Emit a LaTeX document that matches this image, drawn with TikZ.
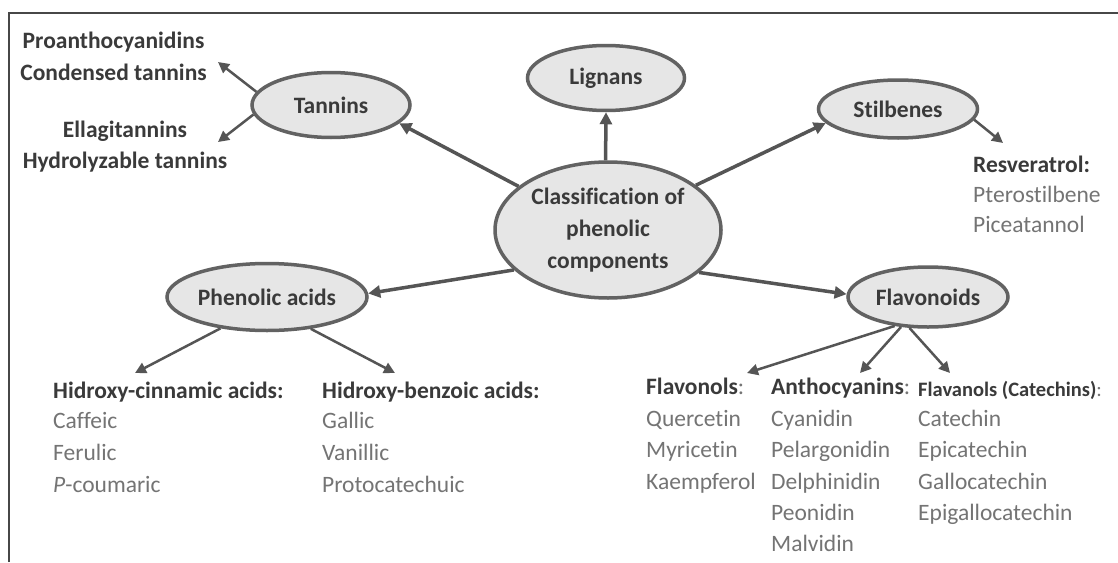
\documentclass[tikz,border=0pt]{standalone}
\usepackage{fontspec}
\setmainfont{Carlito}[Ligatures=CommonOff]
\usetikzlibrary{shapes.geometric,arrows.meta}
\definecolor{ink}{HTML}{3A3A3A}
\definecolor{soft}{HTML}{747474}
\definecolor{edgec}{HTML}{626262}
\definecolor{fillg}{HTML}{E6E6E6}
\definecolor{arrowc}{HTML}{555555}
\definecolor{framec}{HTML}{474747}
\begin{document}
\begin{tikzpicture}[x=1pt,y=-1pt,
  cls/.style={ellipse,draw=edgec,line width=3.5pt,fill=fillg,inner sep=0pt,
    font=\bfseries\fontsize{23.5}{32}\selectfont,text=ink,align=center},
  head/.style={anchor=west,inner sep=0pt,font=\bfseries\fontsize{23.5}{32}\selectfont,
    text=ink,text height=16pt,text depth=5pt},
  item/.style={anchor=west,inner sep=0pt,font=\fontsize{23.5}{32}\selectfont,
    text=soft,text height=16pt,text depth=5pt},
  mainarr/.style={draw=arrowc,line width=3.5pt,-{Triangle[length=12pt,width=12pt]}},
  subarr/.style={draw=arrowc,line width=2.5pt,-{Triangle[length=11pt,width=11pt]}}]

\useasboundingbox (0,0) rectangle (1118,562);
\fill[white] (0,0) rectangle (1118,562);
\draw[framec,line width=2.5pt] (9,562) -- (9,13) -- (1118,13);

% ellipses
\node[cls,minimum width=226pt,minimum height=136pt] (central) at (608,230)
  {Classification of\\phenolic\\components};
\node[cls,minimum width=158pt,minimum height=65pt] (tannins) at (331,105) {Tannins};
\node[cls,minimum width=157pt,minimum height=65pt] (lignans) at (606,78) {Lignans};
\node[cls,minimum width=159pt,minimum height=58pt] (stilbenes) at (898,109) {Stilbenes};
\node[cls,minimum width=200pt,minimum height=67pt] (phenolic) at (267,297) {Phenolic acids};
\node[cls,minimum width=160pt,minimum height=60pt] (flavonoids) at (928,297) {Flavonoids};

% main arrows
\draw[mainarr] (central.154.7) -- (tannins.345);
\draw[mainarr] (central.92) -- (lignans.270);
\draw[mainarr] (central.27) -- (stilbenes.191);
\draw[mainarr] (central.203.7) -- (phenolic.2.3);
\draw[mainarr] (central.335.4) -- (flavonoids.178);

% tannins
\node[head,anchor=center] (proan) at (113.5,43) {Proanthocyanidins};
\node[head,anchor=center] (condensed) at (113.5,75) {Condensed tannins};
\node[head,anchor=center] (ellag) at (125,132) {Ellagitannins};
\node[head,anchor=center] (hydro) at (125,163) {Hydrolyzable tannins};
\coordinate (tanUp) at (218,62);
\coordinate (tanDown) at (218,142);
\draw[subarr] (tannins.170) -- (tanUp);
\draw[subarr] (tannins.187.5) -- (tanDown);

% stilbenes
\node[head] (resv) at (973,167) {Resveratrol:};
\node[item] (ptero) at (973,197) {Pterostilbene};
\node[item] (picea) at (973,227) {Piceatannol};
\coordinate (stilTip) at (1003,143);
\draw[subarr] (stilbenes.352.9) -- (stilTip);

% phenolic acids
\node[head] (cinn) at (53,393) {Hidroxy-cinnamic acids:};
\node[item] (caff) at (53,423) {Caffeic};
\node[item] (feru) at (53,455) {Ferulic};
\node[item] (pcou) at (53,487) {\textit{P}-coumaric};
\node[head] (benz) at (322,393) {Hidroxy-benzoic acids:};
\node[item] (gall) at (322,423) {Gallic};
\node[item] (vani) at (322,455) {Vanillic};
\node[item] (proto) at (322,487) {Protocatechuic};
\coordinate (cinnTip) at (135,373);
\coordinate (benzTip) at (395,373);
\draw[subarr] (phenolic.214.6) -- (cinnTip);
\draw[subarr] (phenolic.324.2) -- (benzTip);

% flavonoids
\node[head] (flavonols) at (646,389) {Flavonols\textcolor{soft}{\mdseries:}};
\node[item] (quer) at (646,421) {Quercetin};
\node[item] (myri) at (646,452) {Myricetin};
\node[item] (kaem) at (646,484) {Kaempferol};
\node[head] (antho) at (771,389) {Anthocyanins\textcolor{soft}{\mdseries:}};
\node[item] (cyan) at (771,421) {Cyanidin};
\node[item] (pelar) at (771,452) {Pelargonidin};
\node[item] (delph) at (771,484) {Delphinidin};
\node[item] (peon) at (771,515) {Peonidin};
\node[item] (malv) at (771,546) {Malvidin};
\node[head,font=\bfseries\fontsize{20.5}{28}\selectfont] (flavanols) at (918,391)
  {Flavanols (Catechins)\textcolor{soft}{\mdseries:}};
\node[item] (cate) at (918,421) {Catechin};
\node[item] (epic) at (918,452) {Epicatechin};
\node[item] (gallo) at (918,484) {Gallocatechin};
\node[item] (epig) at (918,515) {Epigallocatechin};
\coordinate (fnlTip) at (747,373);
\coordinate (antTip) at (860,373);
\coordinate (fanTip) at (950,373);
\draw[subarr] (flavonoids.221.5) -- (fnlTip);
\draw[subarr] (flavonoids.228) -- (antTip);
\draw[subarr] (flavonoids.239.9) -- (fanTip);
\end{tikzpicture}
\end{document}
